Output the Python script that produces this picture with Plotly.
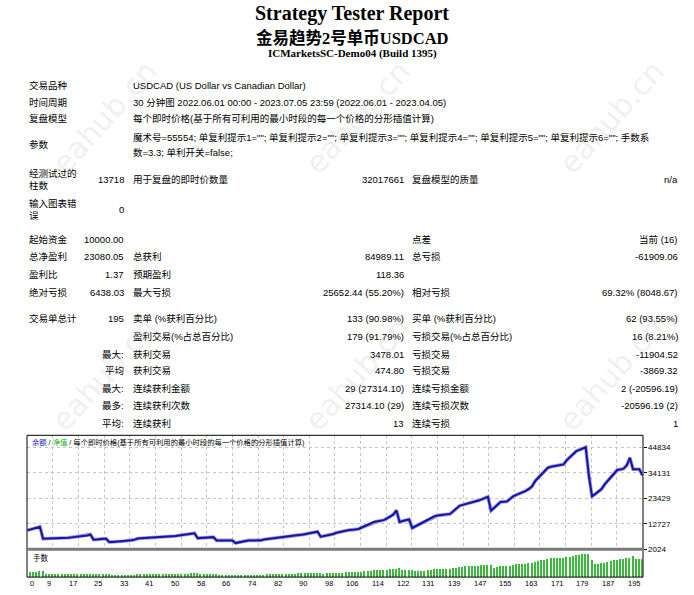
import plotly.graph_objects as go

W, H = 694, 595

# ---- data ----
balance = [
    10000, 10350, 10700, 11100, 11470, 6480, 6500, 6520, 6540, 6560,
    6580, 6600, 6750, 6900, 7050, 7200, 7350, 7500, 7650, 7850,
    8270, 6060, 6200, 6400, 6480, 6480, 5060, 5060, 5150, 5300,
    5420, 5550, 5680, 5850, 6100, 6600, 6660, 6720, 6780, 6840,
    6900, 6960, 7020, 7080, 7150, 7300, 7450, 7600, 7800, 7950,
    8150, 8350, 8600, 8800, 6730, 6820, 6900, 6980, 7060, 7150,
    5770, 5780, 5790, 5800, 5800, 5770, 4650, 4950, 5250, 5600,
    5770, 5770, 5780, 5790, 5800, 6190, 6330, 6470, 6610, 6750,
    6900, 7150, 7300, 7480, 7650, 7830, 8000, 8200, 8400, 8650,
    8900, 9200, 9450, 7350, 7600, 7850, 8120, 8500, 8980, 9300,
    9600, 10060, 10150, 10200, 10250, 10600, 11200, 11800, 12300, 12900,
    13600, 13800, 14000, 14300, 15000, 15800, 16600, 18400, 13500, 13900,
    14300, 14600, 11000, 11700, 12300, 12800, 13600, 14400, 15200, 15900,
    16200, 16400, 16500, 16600, 16900, 18000, 19200, 20300, 20700, 21000,
    21300, 21700, 22100, 22500, 23000, 23500, 24090, 18260, 19500, 20800,
    21900, 22000, 22100, 23200, 24300, 24900, 25400, 26000, 26600, 27400,
    28500, 30750, 32100, 33400, 34800, 36300, 36700, 37000, 37300, 37500,
    37710, 39500, 40800, 42000, 43250, 43800, 44400, 44900, 33000, 24300,
    25200, 26200, 27300, 29300, 30900, 32300, 33800, 35340, 35600, 35900,
    37300, 40460, 35630, 35650, 35630, 33080,
]

lots = [
    3.2, 3.3, 3.4, 3.5, 3.6, 1.8, 1.8, 1.8, 1.8, 1.8,
    1.8, 1.8, 1.9, 1.9, 1.9, 2.0, 2.0, 2.0, 2.1, 2.1,
    2.2, 1.7, 1.7, 1.7, 1.8, 1.8, 1.5, 1.5, 1.5, 1.5,
    1.5, 1.5, 1.6, 1.6, 1.7, 1.8, 1.8, 1.8, 1.8, 1.9,
    1.9, 1.9, 1.9, 1.9, 2.0, 2.0, 2.0, 2.1, 2.1, 2.2,
    2.2, 2.3, 2.3, 2.4, 1.8, 1.8, 1.9, 1.9, 1.9, 2.0,
    1.6, 1.6, 1.6, 1.6, 1.6, 1.6, 1.4, 1.5, 1.5, 1.6,
    1.6, 1.6, 1.6, 1.6, 1.6, 1.7, 1.8, 1.8, 1.9, 1.9,
    2.0, 2.1, 2.1, 2.2, 2.2, 2.3, 2.3, 2.4, 2.4, 2.5,
    2.6, 2.7, 2.8, 2.2, 2.3, 2.4, 2.5, 2.6, 2.7, 2.8,
    2.9, 3.1, 3.2, 3.2, 3.2, 3.3, 3.5, 3.7, 3.9, 4.1,
    4.3, 4.3, 4.4, 4.5, 4.7, 5.0, 5.2, 5.8, 4.3, 4.4,
    4.5, 4.6, 3.5, 3.7, 3.9, 4.0, 4.3, 4.5, 4.8, 5.0,
    5.1, 5.2, 5.2, 5.2, 5.3, 5.7, 6.0, 6.4, 6.5, 6.6,
    6.7, 6.8, 7.0, 7.1, 7.2, 7.4, 7.6, 5.8, 6.1, 6.6,
    6.9, 6.9, 7.0, 7.3, 7.7, 7.8, 8.0, 8.2, 8.4, 8.6,
    9.0, 9.7, 10.1, 10.5, 11.0, 11.4, 11.6, 11.7, 11.7, 11.8,
    11.9, 12.4, 12.9, 13.2, 13.6, 13.8, 14.0, 14.1, 10.4, 7.7,
    7.9, 8.3, 8.6, 9.2, 9.7, 10.2, 10.6, 11.1, 11.2, 11.3,
    11.7, 12.7, 11.2, 11.2, 11.2,
]

x_tick_labels = ["0", "9", "17", "25", "33", "41", "50", "58", "66", "74", "82", "90", "98",
                 "106", "114", "122", "131", "139", "147", "155", "163", "171", "179", "187", "195"]
y_tick_vals = [2024, 12727, 23429, 34131, 44834]

title = "Strategy Tester Report"
ea_name = "金易趋势2号单币USDCAD"
server = "ICMarketsSC-Demo04 (Build 1395)"

info_labels = ["交易品种", "时间周期", "复盘模型", "参数"]
info_values = [
    "USDCAD (US Dollar vs Canadian Dollar)",
    "30 分钟图 2022.06.01 00:00 - 2023.07.05 23:59 (2022.06.01 - 2023.04.05)",
    "每个即时价格(基于所有可利用的最小时段的每一个价格的分形插值计算)",
]
param_lines = [
    '魔术号=55554; 单复利提示1=""; 单复利提示2=""; 单复利提示3=""; 单复利提示4=""; 单复利提示5=""; 单复利提示6=""; 手数系',
    "数=3.3; 单利开关=false;",
]

stats = [
    ["经测试过的<br>柱数", "13718", "用于复盘的即时价数量", "32017661", "复盘模型的质量", "n/a"],
    ["输入图表错<br>误", "0", "", "", "", ""],
    ["起始资金", "10000.00", "", "", "点差", "当前 (16)"],
    ["总净盈利", "23080.05", "总获利", "84989.11", "总亏损", "-61909.06"],
    ["盈利比", "1.37", "预期盈利", "118.36", "", ""],
    ["绝对亏损", "6438.03", "最大亏损", "25652.44 (55.20%)", "相对亏损", "69.32% (8048.67)"],
    ["交易单总计", "195", "卖单 (%获利百分比)", "133 (90.98%)", "买单 (%获利百分比)", "62 (93.55%)"],
    ["", "", "盈利交易(%占总百分比)", "179 (91.79%)", "亏损交易(%占总百分比)", "16 (8.21%)"],
    ["", "最大:", "获利交易", "3478.01", "亏损交易", "-11904.52"],
    ["", "平均", "获利交易", "474.80", "亏损交易", "-3869.32"],
    ["", "最大:", "连续获利金额", "29 (27314.10)", "连续亏损金额", "2 (-20596.19)"],
    ["", "最多:", "连续获利次数", "27314.10 (29)", "连续亏损次数", "-20596.19 (2)"],
    ["", "平均:", "连续获利", "13", "连续亏损", "1"],
]

legend_text = ('<span style="color:#2020c0">余额</span> / <span style="color:#10b010">净值</span> / '
               '每个即时价格(基于所有可利用的最小时段的每一个价格的分形插值计算)')

# ---- layout helpers (pixel -> paper) ----
def px(x):
    return x / W

def py(y):
    return 1 - y / H

FONT = "Liberation Sans, Noto Sans CJK SC, sans-serif"
SERIF = "Liberation Serif, Noto Sans CJK SC, serif"

info_y = [86, 103, 120, 146]
param_y = [139, 154]
stats_y = [181, 211, 242, 259, 277, 295, 321, 339, 357, 374, 392, 409, 427]
col_x = [27, 126, 131, 406, 410, 680]
col_anchor = ["left", "right", "left", "right", "left", "right"]

chart_l, chart_r = 27.3, 642.5
main_top, main_bot = 439, 554
lots_top, lots_bot = 555.5, 582

ann = []

def text(x, y, s, size=9.5, anchor="left", family=FONT, bold=False, color="black"):
    ann.append(dict(x=px(x), y=py(y), xref="paper", yref="paper", text=f"<b>{s}</b>" if bold else s,
                    showarrow=False, xanchor=anchor, yanchor="middle", align=anchor,
                    font=dict(family=family, size=size, color=color)))

text(W / 2 + 5, 14, title, size=20, anchor="center", family=SERIF, bold=True)
text(W / 2 + 5, 38, ea_name, size=16.5, anchor="center", family=SERIF, bold=True)
text(W / 2 + 5, 54, server, size=11, anchor="center", family=SERIF, bold=True)

for lab, y in zip(info_labels, info_y):
    text(col_x[0], y, lab)
for val, y in zip(info_values, info_y):
    text(col_x[2], y, val)
for line, y in zip(param_lines, param_y):
    text(col_x[2], y, line)

for row, y in zip(stats, stats_y):
    for cell, x, a in zip(row, col_x, col_anchor):
        if cell:
            text(x, y, cell, anchor=a)

# chart legend and panel caption
text(30, 446, legend_text, size=7.3)
text(31, 563, "手数", size=7.5)

# x tick labels, right aligned at the grid lines like the terminal draws them
grid_x = [k * (len(balance) - 1) / (len(x_tick_labels) - 1) for k in range(len(x_tick_labels))]
for k, (gx, lab) in enumerate(zip(grid_x, x_tick_labels)):
    ann.append(dict(x=gx, y=py(588), xref="x2", yref="paper", text=lab, showarrow=False,
                    xanchor="left" if k == 0 else "right", yanchor="middle", xshift=1 if k == 0 else 0,
                    font=dict(family=FONT, size=7.5, color="black")))

# watermarks
for cx in (104, 357, 611):
    for cy in (118, 378):
        ann.append(dict(x=px(cx), y=py(cy), xref="paper", yref="paper", text="eahub.cn",
                        showarrow=False, textangle=-48, xanchor="center", yanchor="middle",
                        font=dict(family="DejaVu Sans", size=30, color="rgba(160,160,160,0.18)")))

fig = go.Figure()
trade_no = list(range(len(balance)))
fig.add_trace(go.Bar(x=list(range(1, len(lots) + 1)), y=lots, xaxis="x2", yaxis="y2",
                     width=0.4, marker=dict(color="#3cb83c", line=dict(width=0))))
fig.add_trace(go.Scatter(x=trade_no, y=balance, mode="lines",
                         line=dict(color="#9a9ae2", width=3.6)))
fig.add_trace(go.Scatter(x=trade_no, y=balance, mode="lines",
                         line=dict(color="#1414a6", width=2)))

xdom = [px(chart_l), px(chart_r)]
fig.update_layout(
    width=W, height=H, margin=dict(l=0, r=0, t=0, b=0),
    paper_bgcolor="white", plot_bgcolor="white", showlegend=False, bargap=0,
    xaxis=dict(domain=xdom, range=[0, len(balance) - 1], anchor="y", tickvals=grid_x,
               showticklabels=False, ticks="", showgrid=True, gridcolor="#c4c4c4",
               griddash="3px,3px", zeroline=False, showline=False),
    yaxis=dict(domain=[py(main_bot), py(main_top)], range=[2024, 2024 + (main_bot - main_top) * 416.4],
               anchor="x", side="right", tickvals=y_tick_vals, ticktext=[str(v) for v in y_tick_vals],
               ticks="outside", ticklen=3, tickcolor="black",
               tickfont=dict(family=FONT, size=8, color="black"),
               showgrid=True, gridcolor="#c4c4c4", griddash="3px,3px", zeroline=False, showline=False),
    xaxis2=dict(domain=xdom, range=[0, len(balance) - 1], anchor="y2", showticklabels=False,
                showgrid=False, zeroline=False, ticks=""),
    yaxis2=dict(domain=[py(lots_bot), py(lots_top)], range=[0, 15.7], anchor="x2",
                showticklabels=False, showgrid=False, zeroline=False, ticks=""),
    annotations=ann,
    shapes=[
        dict(type="rect", xref="paper", yref="paper", x0=px(27), x1=px(643), y0=py(main_bot), y1=py(main_top),
             line=dict(color="black", width=1)),
        dict(type="rect", xref="paper", yref="paper", x0=px(27), x1=px(643), y0=py(lots_bot), y1=py(main_bot),
             line=dict(color="black", width=1)),
        dict(type="line", xref="paper", yref="paper", x0=px(27), x1=px(643), y0=py(main_bot), y1=py(main_bot),
             line=dict(color="#7a7a7a", width=3)),
    ],
)

fig.write_html("out.html", config={"displayModeBar": False},
               post_script="document.body.style.margin='0';document.body.style.overflow='hidden';")
